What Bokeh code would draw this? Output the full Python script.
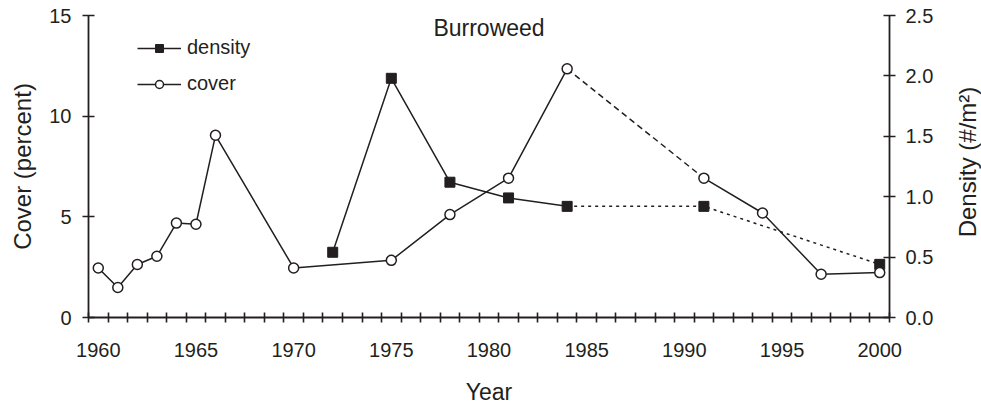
import math
from bokeh.plotting import figure
from bokeh.layouts import row
from bokeh.models import (Range1d, LinearAxis, FixedTicker, PrintfTickFormatter,
                          Legend, LegendItem, Label)
from bokeh.embed import file_html
from bokeh.resources import INLINE

# ---- data ----
years_cover = [1960, 1961, 1962, 1963, 1964, 1965, 1966, 1970, 1975, 1978, 1981, 1984, 1991, 1994, 1997, 2000]
cover = [2.46, 1.49, 2.63, 3.04, 4.69, 4.63, 9.05, 2.46, 2.84, 5.11, 6.92, 12.35, 6.92, 5.19, 2.15, 2.23]

years_density = [1972, 1975, 1978, 1981, 1984, 1991, 2000]
density = [0.54, 1.98, 1.12, 0.99, 0.92, 0.92, 0.44]

x_label_ticks = [1960, 1965, 1970, 1975, 1980, 1985, 1990, 1995, 2000]
cover_ticks = [0, 5, 10, 15]
density_ticks = [0.0, 0.5, 1.0, 1.5, 2.0, 2.5]
title_text = "Burroweed"
density_label = "Density (#/m\u00b2)"

INK = "#231f20"
FONT = "Liberation Sans"

X0, X1 = 1959.5, 2000.5

p = figure(frame_width=801, frame_height=302, output_backend="svg", toolbar_location=None,
           x_range=Range1d(X0, X1), y_range=Range1d(0, 15),
           min_border_left=88, min_border_right=50, min_border_top=15, min_border_bottom=92)
p.outline_line_color = None
p.grid.visible = False
p.background_fill_color = "white"
p.border_fill_color = "white"
p.extra_y_ranges = {"density": Range1d(0, 2.5)}

def style_axis(ax, label_size):
    ax.axis_line_color = INK
    ax.axis_line_width = 1.8
    ax.major_tick_line_color = INK
    ax.major_tick_line_width = 1.6
    ax.minor_tick_line_color = INK
    ax.minor_tick_line_width = 1.6
    ax.major_label_text_font = FONT
    ax.major_label_text_font_size = "20px"
    ax.major_label_text_color = INK
    ax.axis_label_text_font = FONT
    ax.axis_label_text_font_size = label_size
    ax.axis_label_text_font_style = "normal"
    ax.axis_label_text_color = INK

# x axis: labels at years, tick marks at year boundaries
xa = p.xaxis[0]
minor_pos = [X0 + i for i in range(42)]
xa.ticker = FixedTicker(ticks=x_label_ticks, minor_ticks=minor_pos)
style_axis(xa, "23px")
xa.major_tick_in = 0
xa.major_tick_out = 0
xa.minor_tick_in = 5
xa.minor_tick_out = 5
xa.major_label_standoff = 20
xa.axis_label = "Year"
xa.axis_label_standoff = 19

ya = p.yaxis[0]
ya.ticker = FixedTicker(ticks=cover_ticks)
style_axis(ya, "24px")
ya.major_tick_in = 6
ya.major_tick_out = 6
ya.major_label_standoff = 11
ya.axis_label = "Cover (percent)"
ya.axis_label_standoff = 10

ra = LinearAxis(y_range_name="density", ticker=FixedTicker(ticks=density_ticks),
                formatter=PrintfTickFormatter(format="%.1f"))
style_axis(ra, "24px")
ra.major_tick_in = 6
ra.major_tick_out = 6
ra.major_label_standoff = 10
p.add_layout(ra, "right")

# ---- lines ----
lw = 1.5
c_solid1 = p.line(years_cover[:12], cover[:12], line_color=INK, line_width=lw)
p.line(years_cover[11:13], cover[11:13], line_color=INK, line_width=lw, line_dash="6 4")
p.line(years_cover[12:], cover[12:], line_color=INK, line_width=lw)

d_solid = p.line(years_density[:5], density[:5], line_color=INK, line_width=lw, y_range_name="density")
p.line(years_density[4:], density[4:], line_color=INK, line_width=lw, line_dash="3 4",
       y_range_name="density")

# ---- markers ----
d_pts = p.scatter(years_density, density, marker="square", size=10, fill_color=INK,
                  line_color=INK, line_width=1, y_range_name="density")
c_pts = p.scatter(years_cover, cover, marker="circle", size=10, fill_color="white",
                  line_color=INK, line_width=1.5)

# ---- title inside plot ----
p.add_layout(Label(x=1980, y=290, y_units="screen", text=title_text, text_align="center",
                   text_baseline="middle", text_font=FONT, text_font_size="23px", text_color=INK))

legend = Legend(items=[LegendItem(label="density", renderers=[d_solid, d_pts]),
                       LegendItem(label="cover", renderers=[c_solid1, c_pts])],
                location=(49, 222), orientation="vertical",
                glyph_width=44, glyph_height=20, label_standoff=6, spacing=13,
                padding=0, margin=0, border_line_color=None, background_fill_alpha=0,
                label_text_font=FONT, label_text_font_size="20px", label_text_color=INK,
                label_height=20)
p.add_layout(legend, "center")

# ---- narrow strip holding the right-hand axis title (reads bottom-to-top) ----
STRIP_W, STRIP_H = 42, 409
p2 = figure(frame_width=STRIP_W, frame_height=STRIP_H, output_backend="svg", toolbar_location=None,
            x_range=Range1d(0, STRIP_W), y_range=Range1d(0, STRIP_H),
            x_axis_type=None, y_axis_type=None,
            min_border_left=0, min_border_right=0, min_border_top=0, min_border_bottom=0)
p2.outline_line_color = None
p2.grid.visible = False
p2.background_fill_color = "white"
p2.border_fill_color = "white"
p2.add_layout(Label(x=28, y=262.5, text=density_label, angle=math.pi / 2,
                    text_align="center", text_baseline="middle",
                    text_font=FONT, text_font_size="24px", text_color=INK))

layout = row(p, p2, spacing=0)
open("out.html", "w").write(file_html(layout, INLINE))
